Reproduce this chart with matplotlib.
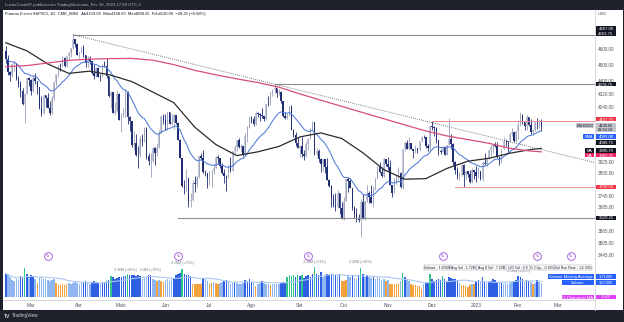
import numpy as np
import pandas as pd
import matplotlib
matplotlib.use("Agg")
import matplotlib.pyplot as plt
from matplotlib.patches import Rectangle
from matplotlib.lines import Line2D

plt.rcParams['font.family'] = ['Liberation Sans', 'DejaVu Sans']

W, H = 624, 322

# sessoes do ES (feriados da CME removidos)
holidays = ['2022-02-21', '2022-04-15', '2022-05-30', '2022-06-20', '2022-07-04',
            '2022-09-05', '2022-11-24', '2022-12-26', '2023-01-02', '2023-01-16',
            '2023-02-20']
sessions = pd.bdate_range('2022-02-10', '2023-03-31').drop(pd.DatetimeIndex(holidays))

opens = [4585, 4538, 4451, 4433, 4503, 4507, 4412, 4381, 4336, 4257, 4320, 4417,
         4406, 4338, 4419, 4395, 4361, 4233, 4203, 4310, 4292, 4236, 4205, 4294, 4390, 4444, 4495, 4493, 4544, 4489, 4552, 4575, 4607, 4662, 4634,
         4562, 4578, 4615, 4558, 4513, 4533, 4520, 4445, 4429, 4479, 4425, 4423, 4495, 4491, 4426, 4304, 4329, 4207, 4215, 4320,
         4164, 4187, 4207, 4332, 4179, 4155, 4023, 4033, 3967, 3962, 4056, 4040, 4120, 3956, 3933, 3933, 4006, 3973, 4011, 4090, 4190,
         4164, 4133, 4209, 4141, 4153, 4193, 4148, 4050, 3949, 3798, 3783, 3838, 3715, 3723, 3813, 3808, 3844, 3960, 3948, 3869, 3867,
         3833, 3873, 3879, 3893, 3951, 3947, 3903, 3867, 3850, 3838, 3911, 3879, 3985, 4008, 4047, 4010, 4015, 3969, 4072, 4121,
         4178, 4167, 4139, 4203, 4200, 4193, 4188, 4170, 4258, 4256, 4328, 4345, 4353, 4323, 4332, 4276, 4186, 4176, 4189, 4247, 4106, 4079, 4034,
         4003, 4015, 3972, 3957, 4028, 4054, 4107, 4150, 3972, 3986, 3941, 3913, 3940, 3896, 3830, 3798, 3733, 3695, 3687, 3759, 3680,
         3626, 3718, 3831, 3823, 3785, 3680, 3652, 3629, 3617, 3710, 3623, 3717, 3760, 3735, 3706, 3792, 3837, 3899, 3870, 3847, 3941,
         3912, 3896, 3799, 3760, 3811, 3847, 3868, 3789, 3996, 4033, 3997, 4032, 3999, 3987, 4005, 3990, 4044, 4067, 4066, 4012, 4006,
         4128, 4124, 4120, 4047, 3989, 3982, 4011, 3966, 4023, 4052, 4028, 3928, 3884, 3850, 3853, 3911, 3854, 3877, 3861, 3815, 3881,
         3872, 3848, 3877, 3832, 3919, 3917, 3943, 3994, 4007, 4023, 4015, 3953, 3923, 3997, 4044, 4041, 4040, 4084, 4095, 4042,
         4101, 4134, 4195, 4151, 4126, 4179, 4133, 4097, 4105, 4152, 4151, 4159]
highs = [4620, 4559, 4458, 4504, 4522, 4510, 4427, 4395, 4357, 4326, 4417, 4420,
         4407, 4433, 4448, 4400, 4362, 4309, 4310, 4312, 4323, 4279, 4304, 4390, 4444, 4497, 4513, 4554, 4546, 4552, 4578, 4607, 4693, 4662, 4636,
         4581, 4615, 4625, 4560, 4553, 4552, 4522, 4503, 4485, 4485, 4442, 4503, 4520, 4545, 4428, 4331, 4331, 4272, 4341, 4322,
         4202, 4232, 4340, 4334, 4189, 4156, 4100, 4082, 4013, 4070, 4081, 4122, 4121, 3978, 3975, 4013, 4008, 4031, 4107, 4190, 4201,
         4198, 4209, 4211, 4201, 4196, 4195, 4151, 4052, 3950, 3826, 3885, 3840, 3756, 3828, 3849, 3850, 3961, 3976, 3993, 3884, 3868,
         3877, 3880, 3912, 3958, 3967, 3948, 3921, 3887, 3852, 3911, 3951, 3987, 4023, 4047, 4061, 4024, 4016, 4087, 4126, 4189,
         4189, 4188, 4215, 4209, 4205, 4235, 4190, 4259, 4305, 4328, 4349, 4378.75, 4355, 4348, 4334, 4277, 4208, 4204, 4248, 4251, 4111, 4092, 4063,
         4018, 4066, 3990, 4035, 4058, 4116, 4159, 4150, 4002, 3999, 3945, 3940, 3941, 3948, 3832, 3799, 3755, 3757, 3776, 3760, 3711,
         3738, 3831, 3846, 3838, 3787, 3693, 3680, 3649, 3725, 3752, 3717, 3802, 3768, 3802, 3797, 3840, 3902, 3926, 3900, 3945, 3943,
         3951, 3934, 3800, 3836, 3854, 3899, 3870, 3998, 4042, 4049, 4068, 4034, 4000, 4019, 4006, 4044, 4074, 4075, 4068, 4024, 4128,
         4157.75, 4128, 4122, 4050, 3999, 4014, 4013, 4023, 4177, 4085, 4030, 3930, 3896, 3871, 3921, 3912, 3878, 3878, 3881, 3890, 3882,
         3902, 3897, 3878, 3930, 3975, 3943, 3994, 4021, 4027, 4039, 4039, 3955, 3997, 4064, 4057, 4044, 4087, 4119, 4097, 4101,
         4163, 4210, 4198, 4152, 4191, 4181, 4171, 4110, 4153, 4174, 4163, 4168.5]
lows = [4509, 4433, 4396, 4425, 4461, 4406, 4359, 4299, 4253, 4146, 4319, 4369,
        4311, 4330, 4377, 4316, 4231, 4189, 4200, 4241, 4232, 4194, 4200, 4283, 4367, 4422, 4457, 4490, 4487, 4485, 4533, 4549, 4602, 4613, 4560,
        4539, 4571, 4547, 4482, 4483, 4506, 4440, 4413, 4425, 4424, 4399, 4420, 4484, 4417, 4300, 4232, 4205, 4195, 4211, 4163,
        4095, 4179, 4181, 4139, 4099, 4007, 3991, 3961, 3891, 3955, 4015, 4035, 3944, 3909, 3842, 3925, 3907, 3957, 4005, 4088, 4143,
        4106, 4106, 4139, 4135, 4112, 4139, 4049, 3948, 3791, 3753, 3770, 3688, 3685, 3718, 3765, 3791, 3840, 3937, 3868, 3848, 3787,
        3800, 3790, 3858, 3890, 3917, 3895, 3858, 3812, 3770, 3836, 3872, 3877, 3977, 3986, 4004, 3983, 3959, 3965, 4040, 4115,
        4145, 4127, 4135, 4184, 4155, 4176, 4160, 4165, 4249, 4250, 4304, 4325, 4301, 4315, 4266, 4183, 4172, 4167, 4185, 4105, 4065, 4013, 4002,
        3951, 3954, 3934, 3954, 3992, 4052, 4104, 3967, 3957, 3928, 3870, 3878, 3867, 3829, 3790, 3687, 3684, 3663, 3681, 3650, 3624,
        3620, 3716, 3762, 3784, 3671, 3628, 3608, 3610, 3532, 3622, 3620, 3712, 3706, 3704, 3687, 3774, 3834, 3864, 3843, 3845, 3903,
        3883, 3799, 3738, 3756, 3804, 3826, 3785, 3780, 3985, 3996, 3994, 3995, 3946, 3975, 3973, 3988, 4038, 4060, 4004, 3985, 3986,
        4105, 4074, 4032, 3966, 3970, 3980, 3965, 3965, 4020, 3998, 3911, 3860, 3832, 3827, 3851, 3790.5, 3832, 3845, 3813, 3812, 3833,
        3819, 3839, 3826, 3823, 3911, 3901, 3940, 3961, 3975, 4008, 3950, 3909, 3920, 3995, 4014, 3973, 4037, 4072, 4039, 4040,
        4053, 4130, 4139, 4108, 4104, 4126, 4084, 4075, 4100, 4110, 4118, 4098.25]
closes = [4536, 4451, 4433, 4503, 4507, 4412, 4381, 4336, 4257, 4320, 4417, 4406,
          4338, 4419, 4395, 4361, 4233, 4203, 4310, 4292, 4236, 4205, 4294, 4390, 4444, 4495, 4493, 4544, 4489, 4552, 4575, 4607, 4662, 4634, 4562,
          4578, 4615, 4558, 4513, 4533, 4520, 4445, 4429, 4479, 4425, 4423, 4495, 4491, 4426, 4304, 4329, 4207, 4215, 4320, 4164,
          4187, 4207, 4332, 4179, 4155, 4023, 4033, 3967, 3962, 4056, 4040, 4120, 3956, 3933, 3933, 4006, 3973, 4011, 4090, 4190, 4164,
          4133, 4209, 4141, 4153, 4193, 4148, 4050, 3949, 3798, 3783, 3838, 3715, 3723, 3813, 3808, 3844, 3960, 3948, 3869, 3867, 3833,
          3873, 3879, 3893, 3951, 3947, 3903, 3867, 3850, 3838, 3911, 3879, 3985, 4008, 4047, 4010, 4015, 3969, 4072, 4121, 4178,
          4167, 4139, 4203, 4200, 4193, 4188, 4170, 4258, 4256, 4328, 4345, 4353, 4323, 4332, 4276, 4186, 4176, 4189, 4247, 4106, 4079, 4034, 4003,
          4015, 3972, 3957, 4028, 4054, 4107, 4150, 3972, 3986, 3941, 3913, 3940, 3896, 3830, 3798, 3733, 3695, 3687, 3759, 3680, 3626,
          3718, 3831, 3823, 3785, 3680, 3652, 3629, 3617, 3710, 3623, 3717, 3760, 3735, 3706, 3792, 3837, 3899, 3870, 3847, 3941, 3912,
          3896, 3799, 3760, 3811, 3847, 3868, 3789, 3996, 4033, 3997, 4032, 3999, 3987, 4005, 3990, 4044, 4067, 4066, 4012, 4006, 4128,
          4124, 4120, 4047, 3989, 3982, 4011, 3966, 4023, 4052, 4028, 3928, 3884, 3850, 3853, 3911, 3854, 3877, 3861, 3815, 3881, 3872,
          3848, 3877, 3832, 3919, 3917, 3943, 3994, 4007, 4023, 4015, 3953, 3923, 3997, 4044, 4041, 4040, 4084, 4095, 4042, 4101,
          4134, 4195, 4151, 4126, 4179, 4133, 4097, 4105, 4152, 4151, 4158.25, 4130]
volumes = [2.6, 2.4, 2.2, 1.9, 1.8, 2.0, 1.9, 2.3, 2.2, 3.2, 2.6, 2.2,
           2.4, 2.3, 2.0, 1.6, 2.1, 2.2, 2.0, 2.0, 1.9, 1.8, 1.9, 2.0, 1.6, 1.3, 1.3, 1.4, 1.3, 1.4, 1.6, 1.5, 1.6, 1.7, 1.6,
           1.5, 1.6, 1.7, 1.8, 1.6, 1.5, 1.7, 1.8, 1.7, 1.6, 1.5, 1.6, 1.7, 1.8, 1.9, 2.3, 2.2, 2.0, 2.1, 2.2,
           2.2, 2.3, 2.36, 2.6, 2.4, 2.5, 2.4, 2.3, 2.5, 2.3, 2.0, 2.1, 2.2, 2.4, 2.4, 2.0, 1.9, 1.8, 1.9, 1.8, 1.7,
           1.9, 2.0, 1.8, 2.0, 2.1, 2.4, 2.6, 2.7, 3.16, 2.6, 2.5, 2.4, 2.3, 1.5, 1.4, 1.4, 1.5, 1.4, 2.1, 2.0, 1.8,
           1.5, 1.6, 1.7, 1.6, 1.5, 1.6, 1.7, 1.8, 1.9, 1.7, 1.5, 1.6, 1.7, 1.6, 1.5, 1.4, 1.6, 1.9, 1.8, 2.0,
           1.7, 1.6, 1.2, 1.5, 1.6, 1.8, 1.6, 1.5, 1.4, 1.3, 1.4, 1.5, 1.4, 1.5, 1.6, 1.7, 1.6, 2.2, 2.4, 2.3, 2.5, 2.2, 2.4,
           2.3, 2.5, 2.1, 2.3, 2.4, 2.2, 2.6, 3.28, 2.6, 2.5, 2.8, 2.2, 2.3, 2.6, 2.5, 2.6, 2.4, 2.5, 2.3, 2.6, 1.8,
           1.8, 1.9, 2.3, 2.2, 2.5, 2.1, 2.0, 2.4, 3.26, 2.6, 2.2, 2.4, 2.2, 2.1, 2.3, 2.0, 2.2, 2.1, 1.9, 2.0, 1.8,
           1.9, 1.5, 1.4, 1.5, 1.4, 1.6, 1.8, 2.7, 2.2, 1.9, 1.8, 1.4, 1.3, 1.3, 1.2, 1.2, 0.9, 1.5, 1.6, 1.7, 2.6,
           2.0, 1.8, 1.9, 2.0, 1.9, 2.3, 2.0, 1.8, 2.2, 2.1, 2.0, 2.0, 1.9, 1.6, 1.3, 1.3, 1.2, 1.1, 1.3, 1.5, 1.4,
           1.8, 1.9, 1.7, 2.2, 1.7, 1.6, 1.7, 1.8, 2.0, 1.9, 1.7, 1.6, 1.7, 1.5, 1.6, 1.5, 1.6, 1.7, 1.8, 1.9,
           2.28, 2.2, 2.0, 1.7, 1.9, 1.8, 1.7, 1.4, 1.6, 1.9, 1.7, 1.57]

# medias (uma a cada 10 barras + ultima)
ma_step = 10
ma50 = [4640, 4588, 4504, 4445, 4459, 4434, 4394, 4330, 4266, 4122, 4023, 3961, 3982, 4012,
        4066, 4089, 4057, 3977, 3884, 3832, 3835, 3890, 3930, 3946, 3974, 3995, 4001]
ma200 = [4487, 4494, 4510, 4527, 4535, 4538, 4539, 4528, 4500, 4464, 4436, 4411, 4388, 4360,
         4319, 4281, 4244, 4207, 4171, 4135, 4100, 4072, 4051, 4030, 4002, 3986, 3982]

grey_levels = [4693.0, 4378.75, 3629.25]
grey_from = ['2022-03-29', '2022-08-16', '2022-06-09']
red_levels = [4157.75, 3790.50]
red_from = ['2022-12-01', '2022-12-16']
trend_dates = ['2022-03-29', '2022-08-16']
trend_prices = [4693.0, 4378.75]

vol_label_dates = ['2022-05-04', '2022-05-20', '2022-06-13', '2022-09-13', '2022-10-13', '2023-02-01']
vol_label_text = ['2.36M (+45%)', '2.4M (+39%)', '3.16M (+75%)', '3.28M (+51%)', '3.26M (+56%)', '2.28M (+35%)']
roll_dates = ['2022-03-11', '2022-06-09', '2022-09-08', '2022-12-08', '2023-02-14', '2023-03-09']

month_names = {1: '2023', 2: 'Fev', 3: 'Mar', 4: 'Abr', 5: 'Maio', 6: 'Jun', 7: 'Jul',
               8: 'Ago', 9: 'Set', 10: 'Out', 11: 'Nov', 12: 'Dez'}
price_ticks = [4600, 4500, 4400, 4320, 4240, 3925, 3865, 3745, 3685, 3565, 3505, 3445]

n = len(closes)
assert len(opens) == len(highs) == len(lows) == len(volumes) == n == 256
pos = {d: i for i, d in enumerate(sessions.strftime('%Y-%m-%d'))}

o, h, l, c = (np.array(a, float) for a in (opens, highs, lows, closes))
x = np.arange(n)
v = np.array(volumes)
ema = pd.Series(c).ewm(span=20, adjust=False).mean()
vol_ma = pd.Series(v).rolling(20, min_periods=1).mean()
ma_x = np.r_[np.arange(0, n, ma_step), n - 1]

def fx(px):
    return px / W

def fy(py):
    return 1 - py / H

fig = plt.figure(figsize=(W / 100, H / 100), dpi=100, facecolor='#1e222d')
fig.add_artist(Rectangle((fx(2.5), fy(309.5)), 620 / W, 300 / H, transform=fig.transFigure,
                         fc='white', ec='none', zorder=-1))
rect = [fx(3), fy(300), 592 / W, 290 / H]
vax = fig.add_axes(rect)
ax = fig.add_axes(rect)
ax.set_facecolor('none')
x0 = -1.33
x1 = 280.57
for a in (ax, vax):
    a.set_xlim(x0, x1)
    for s in a.spines.values():
        s.set_visible(False)

# volume
ratio = v / vol_ma.values
vcol = np.where(ratio >= 1.3, '#2fc58a', np.where(ratio >= 1.0, '#2f5fe3',
                np.where(ratio >= 0.82, '#8fb6f1', '#f4a23c')))
vax.bar(x, v, width=0.72, color=vcol, linewidth=0)
vax.plot(x, vol_ma, color='#a9c8f3', lw=0.8)
vax.set_ylim(-0.333, 31.9)
vax.set_xticks([])
vax.set_yticks([])
for d, t in zip(vol_label_dates, vol_label_text):
    i = pos[d]
    vax.annotate(t, (i, v[i]), xytext=(0, 2.5), textcoords='offset points', ha='center',
                 va='bottom', fontsize=2.6, color='#787b86')
for d in roll_dates:
    i = pos[d]
    vax.plot(i, 4.56, 'o', ms=5.6, mfc='white', mec='#9c4fd6', mew=0.6, zorder=5)
    vax.text(i, 4.56, '↻', fontsize=3, color='#9c4fd6', ha='center', va='center',
             family='DejaVu Sans', zorder=6)

# precos
ax.set_yscale('log')
ax.set_ylim(3235, 4858)
up = c >= o
ax.vlines(x[up], l[up], h[up], color='#9aa0b8', lw=0.6)
ax.vlines(x[~up], l[~up], h[~up], color='#1f2d74', lw=0.6)
ax.bar(x, np.abs(c - o), bottom=np.minimum(o, c), width=0.7,
       color=np.where(up, '#c4c8da', '#1f2d74'), linewidth=0)
ax.plot(x, ema, color='#4f7ad8', lw=0.75)
ax.plot(ma_x, ma50, color='#2b2b2b', lw=0.9)
ax.plot(ma_x, ma200, color='#d84d7b', lw=0.9)

for p, d in zip(grey_levels, grey_from):
    ax.plot([pos[d], x1], [p, p], color='#8a8d96', lw=0.8)
for p, d in zip(red_levels, red_from):
    ax.plot([pos[d], x1], [p, p], color='#ee8e96', lw=0.7)
t0, t1 = pos[trend_dates[0]], pos[trend_dates[1]]
k = (np.log(trend_prices[1]) - np.log(trend_prices[0])) / (t1 - t0)
ax.plot([t0, x1], [trend_prices[0], np.exp(np.log(trend_prices[0]) + k * (x1 - t0))],
        color='#50535e', lw=0.6, ls=(0, (1, 1.5)))

ax.yaxis.tick_right()
ax.set_yticks(price_ticks)
ax.set_yticklabels([f'{t:.2f}' for t in price_ticks])
ax.yaxis.set_minor_locator(matplotlib.ticker.NullLocator())
ax.tick_params(axis='y', length=0, pad=2.3, labelsize=3.3, labelcolor='#50535e')
firsts = sessions.to_series().groupby(sessions.to_period('M')).first()
mt = [(pos[d.strftime('%Y-%m-%d')], month_names[d.month]) for d in firsts if d >= pd.Timestamp('2022-03-01')]
ax.set_xticks([m[0] for m in mt])
ax.set_xticklabels([m[1] for m in mt])
ax.tick_params(axis='x', length=0, pad=2.0, labelsize=3.5, labelcolor='#50535e')

# separadores
fig.add_artist(Line2D([fx(2.5), fx(595)], [fy(300), fy(300)], transform=fig.transFigure,
                      color='#d6d8de', lw=0.7))
fig.add_artist(Line2D([fx(595), fx(595)], [fy(9.5), fy(309.5)], transform=fig.transFigure,
                      color='#d6d8de', lw=0.7))

def box(xa, xb, yc, text, fc, tc='white', hh=4.8, fs=3.1):
    fig.add_artist(Rectangle((fx(xa), fy(yc + hh / 2)), (xb - xa) / W, hh / H,
                             transform=fig.transFigure, fc=fc, ec='none', zorder=5))
    if text:
        fig.text(fx((xa + xb) / 2), fy(yc), text, color=tc, fontsize=fs, ha='center',
                 va='center_baseline', zorder=6)

def py_of(price):
    return H - ax.transData.transform((0, price))[1]

# etiquetas na escala de precos
box(596, 616, 28.3, '4667.00', '#131722')
box(596, 616, 33.5, '4663.75', '#131722')
box(596, 616, py_of(4378.75), '4378.75', '#131722')
box(596, 616, py_of(4157.75) - 2, '4157.75', '#f23645')
ylast = py_of(4130.00) + 1.5
box(596, 616, ylast, '', '#c3c5cc', hh=9)
fig.text(fx(606), fy(ylast - 2.1), '4130.00', fontsize=2.9, color='#131722',
         ha='center', va='center_baseline', zorder=7)
fig.text(fx(606), fy(ylast + 2.2), '01:50:18', fontsize=2.9, color='#131722',
         ha='center', va='center_baseline', zorder=7)
box(576, 594, ylast - 2.1, 'ESH2023', '#c3c5cc', '#131722', fs=2.8)
box(596, 616, py_of(4093.00) + 4, '4093.00', '#2962ff')
box(583, 594, py_of(4093.00) + 4, 'EMA', '#2962ff', fs=2.8)
box(596, 616, py_of(4080.75) + 8, '4080.75', '#131722')
box(596, 616, py_of(3995.75) + 1.5, '3995.75', '#131722')
box(585, 594, py_of(3995.75) + 1.5, 'MA', '#131722', fs=2.8)
box(596, 616, py_of(3983.25) + 3.5, '3983.25', '#e91e63')
box(585, 594, py_of(3983.25) + 3.5, 'MA', '#e91e63', fs=2.8)
box(596, 616, py_of(3790.50), '3790.50', '#f23645')
box(596, 616, py_of(3629.25), '3629.25', '#131722')
fig.text(fx(598), fy(14), 'USD', fontsize=3.1, color='#50535e', va='center')

# etiquetas do volume
box(548, 594, 276.7, 'Volume Moving Average', '#2962ff', fs=3.0)
box(596, 616, 276.7, '1.712M', '#2962ff', fs=3.0)
box(562, 594, 282.7, 'Volume', '#2962ff', fs=3.0)
box(596, 616, 282.7, '1.572M', '#2962ff', fs=3.0)
box(562, 594, 297, '% Change to MA', '#e040fb', fs=3.0)
box(596, 616, 297, '-9.49', '#e040fb', fs=3.0)

cells = ['Volume : 1.605M', 'Avg Vol : 1.72M', 'Avg $ Vol : 7.20B', 'U/D Vol : 0.9',
         '% Chg : -0.49%', 'Vol Run Rate : -12.59%']
tot = sum(len(s) + 2 for s in cells)
cx = 424.0
for s in cells:
    wcell = 168 * (len(s) + 2) / tot
    fig.add_artist(Rectangle((fx(cx), fy(270)), wcell / W, 5.5 / H, transform=fig.transFigure,
                             fc='white', ec='#9598a1', lw=0.3, zorder=5))
    fig.text(fx(cx + wcell / 2), fy(267.2), s, fontsize=2.5, color='#131722', ha='center',
             va='center_baseline', zorder=6)
    cx += wcell

# textos
fig.text(fx(5), fy(4.8), 'LucasCosta07 publicou em TradingView.com, Fev 16, 2023 17:09 UTC-3',
         fontsize=3.1, color='#b2b5be', va='center')
fig.text(fx(5), fy(14), 'Futuros E-mini S&P500, 1D, CME_MINI   Ab4159.00  Máx4168.50  '
         'Mín4098.25  Fch4130.00  \u221228.25 (\u22120.68%)', fontsize=3.0, color='#131722', va='center')
fig.text(fx(4), fy(316), 'TV', fontsize=3.6, color='#d1d4dc', weight='bold', va='center')
fig.text(fx(11.5), fy(316), 'TradingView', fontsize=3.4, color='#d1d4dc', va='center')

fig.savefig('out.png', dpi=100, facecolor=fig.get_facecolor())
